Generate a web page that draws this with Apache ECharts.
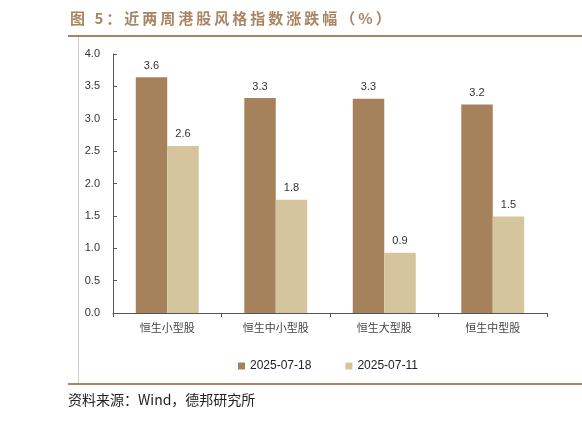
<!DOCTYPE html>
<html>
<head>
<meta charset="utf-8">
<script src="https://cdn.jsdelivr.net/npm/echarts@6/dist/echarts.min.js"></script>
<style>
    html, body { margin: 0; padding: 0; background: #fff; }
    #main { width: 582px; height: 421px; }
</style>
</head>
<body>
<div id="main"></div>
<script>
// data
var categories = ['恒生小型股', '恒生中小型股', '恒生大型股', '恒生中型股'];
var seriesNames = ['2025-07-18', '2025-07-11'];
var week1 = [3.64, 3.32, 3.31, 3.22];
var week2 = [2.58, 1.75, 0.93, 1.49];
var yTicks = { min: 0, max: 4, interval: 0.5 };

var titleText = '图 5：近两周港股风格指数涨跌幅（%）';
var sourceText = '资料来源：Wind，德邦研究所';

var brown = '#a88563';
var chart = echarts.init(document.getElementById('main'));

// canvas text has no letter-spacing, so lay the title out char by char
function spacedText(text, x, y, font, color, spacing) {
    var ctx = document.createElement('canvas').getContext('2d');
    ctx.font = font;
    var out = [];
    for (var i = 0; i < text.length; i++) {
        var ch = text[i];
        out.push({
            type: 'text', x: x, y: y,
            style: { text: ch, fill: color, font: font, textVerticalAlign: 'middle' }
        });
        x += ctx.measureText(ch).width + spacing;
    }
    return out;
}

function barSeries(name, data, color) {
    return {
        name: name,
        type: 'bar',
        data: data,
        barGap: '0%',
        barCategoryGap: '42%',
        itemStyle: { color: color },
        label: {
            show: true,
            position: 'top',
            distance: 6,
            fontSize: 11,
            color: '#333',
            fontFamily: 'Liberation Sans, Arial',
            formatter: function (p) { return p.value.toFixed(1); }
        }
    };
}

var graphics = spacedText(titleText, 70, 18, 'bold 15px "Noto Sans CJK SC"', brown, 3);
graphics.push(
    { type: 'rect', shape: { x: 68, y: 35, width: 514, height: 2 }, style: { fill: brown } },
    { type: 'line', shape: { x1: 78.5, y1: 37, x2: 78.5, y2: 383 }, style: { stroke: '#ccc', lineWidth: 1 } },
    { type: 'rect', shape: { x: 68, y: 383, width: 514, height: 2 }, style: { fill: brown } },
    {
        type: 'text', left: 68, top: 393,
        style: { text: sourceText, fill: '#222', font: '14px "Noto Sans CJK SC"' }
    }
);

chart.setOption({
    animation: false,
    backgroundColor: '#fff',
    grid: { left: 113, right: 35, top: 54, bottom: 108 },
    legend: {
        top: 355,
        left: 233,
        itemWidth: 7,
        itemHeight: 7,
        itemGap: 34,
        icon: 'rect',
        textStyle: { fontSize: 12, color: '#222', fontFamily: 'Liberation Sans, Arial' },
        data: seriesNames
    },
    xAxis: {
        type: 'category',
        data: categories,
        axisLine: { lineStyle: { color: '#555', width: 1 } },
        axisTick: { show: true, length: 4, lineStyle: { color: '#555' } },
        axisLabel: { fontSize: 11, color: '#444', margin: 9, fontFamily: 'Noto Sans CJK SC' }
    },
    yAxis: {
        type: 'value',
        min: yTicks.min,
        max: yTicks.max,
        interval: yTicks.interval,
        splitLine: { show: false },
        axisLine: { show: true, lineStyle: { color: '#555', width: 1 } },
        axisTick: { show: true, inside: true, length: 4, lineStyle: { color: '#555' } },
        axisLabel: {
            fontSize: 11, color: '#333', margin: 13, fontFamily: 'Liberation Sans, Arial',
            formatter: function (v) { return v.toFixed(1); }
        }
    },
    series: [
        barSeries(seriesNames[0], week1, '#a6825c'),
        barSeries(seriesNames[1], week2, '#d5c59c')
    ],
    graphic: graphics
});
</script>
</body>
</html>
